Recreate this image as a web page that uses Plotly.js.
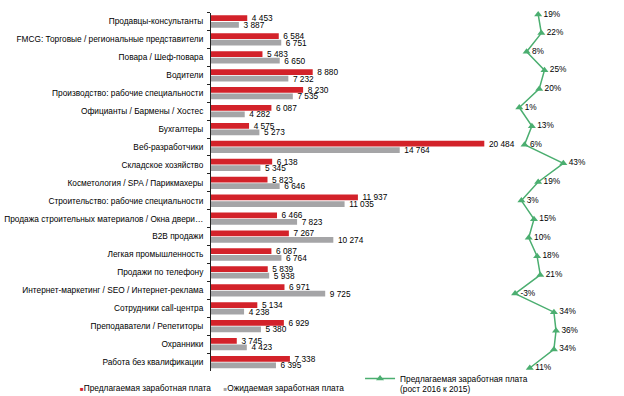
<!DOCTYPE html>
<html>
<head>
<meta charset="utf-8">
<script src="https://cdn.plot.ly/plotly-3.0.1.min.js"></script>
<style>html,body{margin:0;padding:0;background:#fff;}#chart{width:624px;height:396px;}</style>
</head>
<body>
<div id="chart"></div>
<script>
var categories = [
  "Продавцы-консультанты",
  "FMCG: Торговые / региональные представители",
  "Повара / Шеф-повара",
  "Водители",
  "Производство: рабочие специальности",
  "Официанты / Бармены / Хостес",
  "Бухгалтеры",
  "Веб-разработчики",
  "Складское хозяйство",
  "Косметология / SPA / Парикмахеры",
  "Строительство: рабочие специальности",
  "Продажа строительных материалов / Окна двери…",
  "B2B продажи",
  "Легкая промышленность",
  "Продажи по телефону",
  "Интернет-маркетинг / SEO / Интернет-реклама",
  "Сотрудники call-центра",
  "Преподаватели / Репетиторы",
  "Охранники",
  "Работа без квалификации"
];
var offeredSalary = [4453, 6584, 5483, 8880, 8230, 6087, 4575, 20484, 6138, 5823, 11937, 6466, 7267, 6087, 5839, 6971, 5134, 6929, 3745, 7338];
var expectedSalary = [3887, 6751, 6650, 7232, 7535, 4282, 5273, 14764, 5345, 6646, 11035, 7823, 10274, 6764, 5938, 9725, 4238, 5380, 4423, 6395];
var offeredGrowth = [19, 22, 8, 25, 20, 1, 13, 6, 43, 19, 3, 15, 10, 18, 21, -3, 34, 36, 34, 11];

var seriesNames = ["Предлагаемая заработная плата", "Ожидаемая заработная плата", "Предлагаемая заработная плата<br>(рост 2016 к 2015)"];

var RED = "#d3222a", GRAY = "#a5a5a7", GREEN = "#4bae70";
var FONT = "'Liberation Sans', Arial, sans-serif";
var FS = 8.3;

function fmt(v) { return "\u00a0\u00a0" + String(v).replace(/\B(?=(\d{3})+(?!\d))/g, " "); }

var traces = [
  {
    type: "bar", orientation: "h", y: categories, x: offeredSalary,
    marker: { color: RED }, name: seriesNames[0], showlegend: false,
    text: offeredSalary.map(fmt), textposition: "outside", constraintext: "none",
    cliponaxis: false, textfont: { size: FS, color: "#000", family: FONT }, hoverinfo: "x+y"
  },
  {
    type: "bar", orientation: "h", y: categories, x: expectedSalary,
    marker: { color: GRAY }, name: seriesNames[1], showlegend: false,
    text: expectedSalary.map(fmt), textposition: "outside", constraintext: "none",
    cliponaxis: false, textfont: { size: FS, color: "#000", family: FONT }, hoverinfo: "x+y"
  },
  {
    type: "scatter", mode: "lines+markers+text", y: categories, x: offeredGrowth,
    xaxis: "x2", yaxis: "y2", name: seriesNames[2], legend: "legend3",
    line: { color: GREEN, width: 1.5 }, marker: { symbol: "triangle-up", size: 7, color: GREEN },
    text: offeredGrowth.map(function (v) { return v + "%"; }), textposition: "middle right",
    textfont: { size: FS, color: "#000", family: FONT }, cliponaxis: false
  },
  {
    type: "scatter", mode: "markers", x: [null], y: [null], legend: "legend",
    marker: { color: "rgba(0,0,0,0)" }, hoverinfo: "skip",
    name: '<span style="color:' + RED + ';font-size:6px">■</span>' + seriesNames[0]
  },
  {
    type: "scatter", mode: "markers", x: [null], y: [null], legend: "legend2",
    marker: { color: "rgba(0,0,0,0)" }, hoverinfo: "skip",
    name: '<span style="color:' + GRAY + ';font-size:6px">■</span>' + seriesNames[1]
  }
];

var legendBase = { orientation: "v", bgcolor: "rgba(0,0,0,0)", font: { size: FS, family: FONT, color: "#000" }, yanchor: "middle", xanchor: "left" };

var layout = {
  width: 624, height: 396,
  margin: { l: 0, r: 0, t: 0, b: 0, autoexpand: false },
  paper_bgcolor: "#fff", plot_bgcolor: "#fff",
  font: { family: FONT, size: FS, color: "#000" },
  barmode: "group", bargap: 0.27, bargroupgap: 0.12,
  xaxis: { domain: [0.3381, 0.8013], range: [2000, 21546], visible: false, fixedrange: true },
  yaxis: {
    domain: [0.0631, 0.9683], type: "category", autorange: "reversed",
    showline: true, linecolor: "#222", linewidth: 1, ticks: "outside", tickson: "boundaries",
    ticklen: 3, tickcolor: "#222", tickfont: { size: FS, family: FONT, color: "#000" },
    showgrid: false, zeroline: false, fixedrange: true, ticklabelstandoff: 5
  },
  xaxis2: { domain: [0.8221, 0.9146], range: [-5, 50], visible: false, anchor: "y2", fixedrange: true },
  yaxis2: { domain: [0.0472, 0.9869], type: "category", range: [19.5, -0.5], autorange: false, visible: false, anchor: "x2", fixedrange: true },
  showlegend: true,
  legend: Object.assign({}, legendBase, { x: 0.0642, y: 0.0203 }),
  legend2: Object.assign({}, legendBase, { x: 0.2942, y: 0.0203 }),
  legend3: Object.assign({}, legendBase, { x: 0.5770, y: 0.0303, valign: "top" })
};

Plotly.newPlot("chart", traces, layout, { displayModeBar: false, staticPlot: true });
</script>
</body>
</html>
